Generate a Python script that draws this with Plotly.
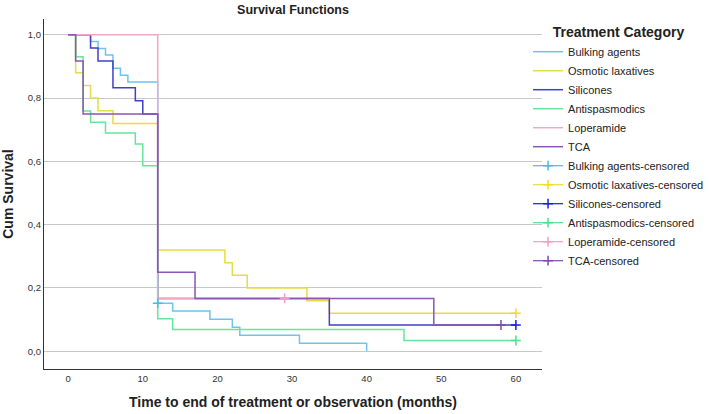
import plotly.graph_objects as go

# ---- data ----
groups = ["Bulking agents", "Osmotic laxatives", "Silicones", "Antispasmodics", "Loperamide", "TCA"]

bulking_t = [3, 4, 5, 6, 7, 8, 12, 14, 19, 22, 23, 31, 40]
bulking_s = [0.979, 0.957, 0.936, 0.894, 0.872, 0.851, 0.152, 0.127, 0.101, 0.076, 0.051, 0.025, 0.0]
bulking_end = 40
bulking_cens_t = [12]
bulking_cens_s = [0.152]

osmotic_t = [1, 2, 3, 4, 6, 12, 21, 22, 24, 32, 35]
osmotic_s = [0.88, 0.84, 0.80, 0.76, 0.72, 0.32, 0.28, 0.24, 0.20, 0.16, 0.12]
osmotic_end = 60
osmotic_cens_t = [60]
osmotic_cens_s = [0.12]

silicones_t = [3, 4, 6, 9, 10, 12, 35]
silicones_s = [0.958, 0.917, 0.833, 0.792, 0.75, 0.167, 0.083]
silicones_end = 60
silicones_cens_t = [60]
silicones_cens_s = [0.083]

antisp_t = [1, 2, 3, 5, 9, 10, 12, 14, 45]
antisp_s = [0.931, 0.759, 0.724, 0.690, 0.655, 0.586, 0.103, 0.069, 0.034]
antisp_end = 60
antisp_cens_t = [60]
antisp_cens_s = [0.034]

loperamide_t = [12]
loperamide_s = [0.167]
loperamide_end = 29
loperamide_cens_t = [29]
loperamide_cens_s = [0.167]

tca_t = [1, 2, 12, 17, 49]
tca_s = [0.917, 0.75, 0.25, 0.167, 0.083]
tca_end = 58
tca_cens_t = [58]
tca_cens_s = [0.083]

y_ticks = [0.0, 0.2, 0.4, 0.6, 0.8, 1.0]
y_ticklabels = ["0,0", "0,2", "0,4", "0,6", "0,8", "1,0"]
x_ticks = [0, 10, 20, 30, 40, 50, 60]

line_colors = ["#6cc4f0", "#e6dc45", "#4040cc", "#66e69a", "#f3a6c6", "#8a55b4"]
cens_colors = ["#4ab6f2", "#f0dc2a", "#1a1ae6", "#4fe08a", "#f59cc4", "#7f4aa8"]

series = [
    (bulking_t, bulking_s, bulking_end, bulking_cens_t, bulking_cens_s),
    (osmotic_t, osmotic_s, osmotic_end, osmotic_cens_t, osmotic_cens_s),
    (silicones_t, silicones_s, silicones_end, silicones_cens_t, silicones_cens_s),
    (antisp_t, antisp_s, antisp_end, antisp_cens_t, antisp_cens_s),
    (loperamide_t, loperamide_s, loperamide_end, loperamide_cens_t, loperamide_cens_s),
    (tca_t, tca_s, tca_end, tca_cens_t, tca_cens_s),
]

fig = go.Figure()

for name, (t, s, end, ct, cs), col in zip(groups, series, line_colors):
    xs = [0] + list(t) + [end]
    ys = [1.0] + list(s) + [s[-1]]
    fig.add_trace(go.Scatter(x=xs, y=ys, mode="lines", name=name,
                             line=dict(color=col, width=1.5, shape="hv"),
                             hoverinfo="skip"))

for name, (t, s, end, ct, cs), col in zip(groups, series, cens_colors):
    fig.add_trace(go.Scatter(x=ct, y=cs, mode="lines+markers", name=name + "-censored",
                             line=dict(color=col, width=1.2),
                             marker=dict(symbol="cross-thin", size=7,
                                         line=dict(color=col, width=1.5)),
                             hoverinfo="skip"))

font_family = "Liberation Sans, Arial, sans-serif"

fig.update_layout(
    width=709, height=414,
    margin=dict(l=44, r=167, t=19, b=45, autoexpand=False),
    paper_bgcolor="white", plot_bgcolor="white",
    font=dict(family=font_family, color="#222"),
    title=dict(text="<b>Survival Functions</b>", x=(44 + 249) / 709, xanchor="center",
               y=1 - 10 / 414, yanchor="middle", font=dict(size=12.5, color="#222")),
    xaxis=dict(range=[-3.24, 63.5], tickvals=x_ticks, ticks="", showgrid=False,
               zeroline=False, showline=True, linecolor="#333", linewidth=1.2,
               automargin=False,
               tickfont=dict(size=9.5, color="#333"),
               title=dict(text="<b>Time to end of treatment or observation (months)</b>",
                          font=dict(size=14, color="#222"), standoff=14)),
    yaxis=dict(range=[-0.056, 1.05], tickvals=y_ticks, ticktext=y_ticklabels, ticks="",
               showgrid=True, gridcolor="#c8c8c8", gridwidth=1.4,
               zeroline=False, showline=True, linecolor="#333", linewidth=1.2,
               automargin=False,
               tickfont=dict(size=9.5, color="#333"),
               title=dict(text="<b>Cum Survival</b>", font=dict(size=14, color="#222"),
                          standoff=10)),
    legend=dict(x=0.972, y=1.0, xanchor="left", yanchor="top",
                bgcolor="rgba(0,0,0,0)", itemwidth=30, maxheight=1,
                font=dict(size=11, color="#222"),
                title=dict(text="<b>Treatment Category</b>", side="top center",
                           font=dict(size=14, color="#222")),
                tracegroupgap=0),
)

fig.write_html("out.html", config={"displayModeBar": False},
               post_script="document.body.style.margin='0px';")
